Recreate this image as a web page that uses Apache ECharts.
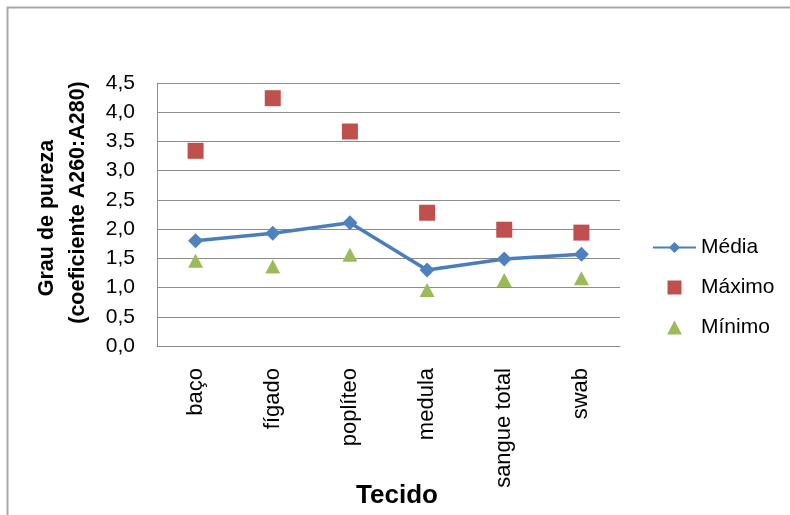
<!DOCTYPE html>
<html>
<head>
<meta charset="utf-8">
<script src="https://cdn.jsdelivr.net/npm/echarts@6/dist/echarts.min.js"></script>
<style>
  html, body { margin: 0; padding: 0; background: #ffffff; }
  #chart { width: 790px; height: 515px; }
</style>
</head>
<body>
<div id="chart"></div>
<script>
// Tissue types (x axis)
const categories = ['baço', 'fígado', 'poplíteo', 'medula', 'sangue total', 'swab'];
// A260:A280 purity ratio per tissue
const media  = [1.80, 1.93, 2.11, 1.30, 1.49, 1.57];
const maximo = [3.34, 4.24, 3.67, 2.28, 1.99, 1.94];
const minimo = [1.46, 1.36, 1.56, 0.96, 1.13, 1.16];
// Y axis tick labels (decimal comma)
const yTickLabels = ['0,0', '0,5', '1,0', '1,5', '2,0', '2,5', '3,0', '3,5', '4,0', '4,5'];

const FONT = "'Liberation Sans', Arial, sans-serif";
const chart = echarts.init(document.getElementById('chart'), null, { renderer: 'canvas' });

chart.setOption({
  backgroundColor: '#ffffff',
  animation: false,
  textStyle: { fontFamily: FONT, color: '#000' },
  grid: { left: 157, right: 170, top: 83, bottom: 169, containLabel: false },
  graphic: [
    // outer chart frame (only top and left edges visible)
    {
      type: 'rect',
      shape: { x: 7.5, y: 7.5, width: 900, height: 600 },
      style: { fill: 'none', stroke: '#a8a8a8', lineWidth: 2 },
      silent: true
    },
    // y axis title, two lines
    {
      type: 'text',
      x: 47.5, y: 218, rotation: Math.PI / 2,
      style: {
        text: 'Grau de pureza', font: 'bold 21.5px ' + FONT, fill: '#000',
        align: 'center', verticalAlign: 'middle'
      }
    },
    {
      type: 'text',
      x: 78, y: 202.5, rotation: Math.PI / 2,
      style: {
        text: '(coeficiente A260:A280)', font: 'bold 21.5px ' + FONT, fill: '#000',
        align: 'center', verticalAlign: 'middle'
      }
    },
    // x axis title
    {
      type: 'text',
      x: 397, y: 496,
      style: {
        text: 'Tecido', font: 'bold 26px ' + FONT, fill: '#000',
        align: 'center', verticalAlign: 'middle'
      }
    }
  ],
  legend: {
    orient: 'vertical',
    left: 647,
    top: 232,
    itemWidth: 43,
    itemHeight: 14,
    itemGap: 19,
    textStyle: { fontFamily: FONT, fontSize: 21, color: '#000' },
    data: [
      { name: 'Média' },
      { name: 'Máximo', icon: 'path://M0,0L1,0L1,1L0,1Z' },
      { name: 'Mínimo', icon: 'path://M0.5,0L1,0.95L0,0.95Z' }
    ]
  },
  xAxis: {
    type: 'category',
    data: categories,
    boundaryGap: true,
    axisLine: { show: true, lineStyle: { color: '#8c8c8c', width: 1 } },
    axisTick: { show: false },
    axisLabel: {
      rotate: 90, margin: 22, fontSize: 22, fontFamily: FONT, color: '#000', interval: 0
    },
    splitLine: { show: false }
  },
  yAxis: {
    type: 'value',
    min: 0, max: 4.5, interval: 0.5,
    axisLine: { show: true, lineStyle: { color: '#8c8c8c', width: 1 } },
    axisTick: { show: false },
    axisLabel: {
      margin: 22, fontSize: 21, fontFamily: FONT, color: '#000',
      formatter: function (v) { return yTickLabels[Math.round(v / 0.5)]; }
    },
    splitLine: { show: true, lineStyle: { color: '#8c8c8c', width: 1 } }
  },
  series: [
    {
      name: 'Média',
      type: 'line',
      data: media,
      symbol: 'diamond',
      symbolSize: 15,
      lineStyle: { color: '#4a7ebb', width: 3.5 },
      itemStyle: { color: '#4f81bd', opacity: 1 },
      z: 3
    },
    {
      name: 'Máximo',
      type: 'scatter',
      data: maximo,
      symbol: 'rect',
      symbolSize: 16,
      itemStyle: { color: '#c0504d', opacity: 1 },
      z: 2
    },
    {
      name: 'Mínimo',
      type: 'scatter',
      data: minimo,
      symbol: 'triangle',
      symbolSize: [15, 14],
      itemStyle: { color: '#9bbb59', opacity: 1 },
      z: 2
    }
  ]
});
</script>
</body>
</html>
